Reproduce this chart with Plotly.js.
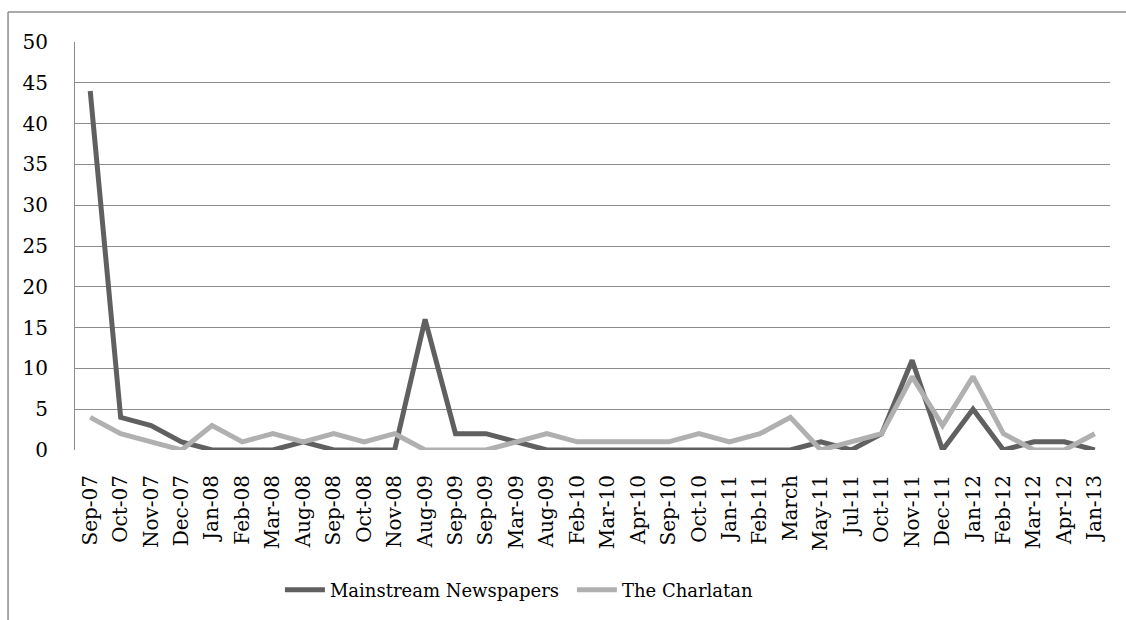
<!DOCTYPE html>
<html>
<head>
<meta charset="utf-8">
<script src="https://cdn.plot.ly/plotly-3.0.1.min.js"></script>
<style>html,body{margin:0;padding:0;background:#fff;}#chart{width:1126px;height:620px;}</style>
</head>
<body>
<div id="chart"></div>
<script>
const categories = ["Sep-07","Oct-07","Nov-07","Dec-07","Jan-08","Feb-08","Mar-08","Aug-08","Sep-08","Oct-08","Nov-08","Aug-09","Sep-09","Sep-09","Mar-09","Aug-09","Feb-10","Mar-10","Apr-10","Sep-10","Oct-10","Jan-11","Feb-11","March","May-11","Jul-11","Oct-11","Nov-11","Dec-11","Jan-12","Feb-12","Mar-12","Apr-12","Jan-13"];
const mainstream = [44,4,3,1,0,0,0,1,0,0,0,16,2,2,1,0,0,0,0,0,0,0,0,0,1,0,2,11,0,5,0,1,1,0];
const charlatan = [4,2,1,0,3,1,2,1,2,1,2,0,0,0,1,2,1,1,1,1,2,1,2,4,0,1,2,9,3,9,2,0,0,2];
const yTicks = [0,5,10,15,20,25,30,35,40,45,50];

const idx = categories.map((c,i)=>i);
const fontFam = 'DejaVu Serif';

const traces = [
  {x: idx, y: mainstream, type:'scatter', mode:'lines', name:'Mainstream Newspapers',
   line:{color:'#606060', width:5}},
  {x: idx, y: charlatan, type:'scatter', mode:'lines', name:'The Charlatan',
   line:{color:'#b0b0b0', width:5}}
];

const layout = {
  width:1126, height:620,
  margin:{l:75, r:16, t:42, b:170},
  paper_bgcolor:'#fff', plot_bgcolor:'#fff',
  font:{family:fontFam, size:20, color:'#000'},
  showlegend:true,
  legend:{orientation:'h', x:0.198, xanchor:'left', y:-0.343, yanchor:'middle',
          font:{family:fontFam, size:18, color:'#000'}, itemwidth:40,
          entrywidth:237, entrywidthmode:'pixels', traceorder:'normal'},
  xaxis:{range:[-0.5, 33.5], tickmode:'array', tickvals:idx, ticktext:categories,
         tickangle:-90, showgrid:false, zeroline:false, showline:false, ticks:'',
         ticklabelstandoff:20,
         tickfont:{family:fontFam, size:20, color:'#000'}, fixedrange:true},
  yaxis:{range:[0,50], tickmode:'array', tickvals:yTicks, ticktext:yTicks.map(String),
         showgrid:true, gridcolor:'#8c8c8c', gridwidth:1, zeroline:false,
         showline:true, linecolor:'#8c8c8c', linewidth:1, ticks:'',
         ticklabelstandoff:22,
         tickfont:{family:fontFam, size:20, color:'#000'}, fixedrange:true},
  shapes:[
    {type:'line', xref:'paper', yref:'paper', x0:-0.0647, x1:1.05, y0:1.0735, y1:1.0735,
     line:{color:'#8c8c8c', width:1.5}},
    {type:'line', xref:'paper', yref:'paper', x0:-0.0647, x1:-0.0647, y0:1.0735, y1:-0.5,
     line:{color:'#8c8c8c', width:1.5}}
  ]
};

Plotly.newPlot('chart', traces, layout, {staticPlot:true, displayModeBar:false});
</script>
</body>
</html>
